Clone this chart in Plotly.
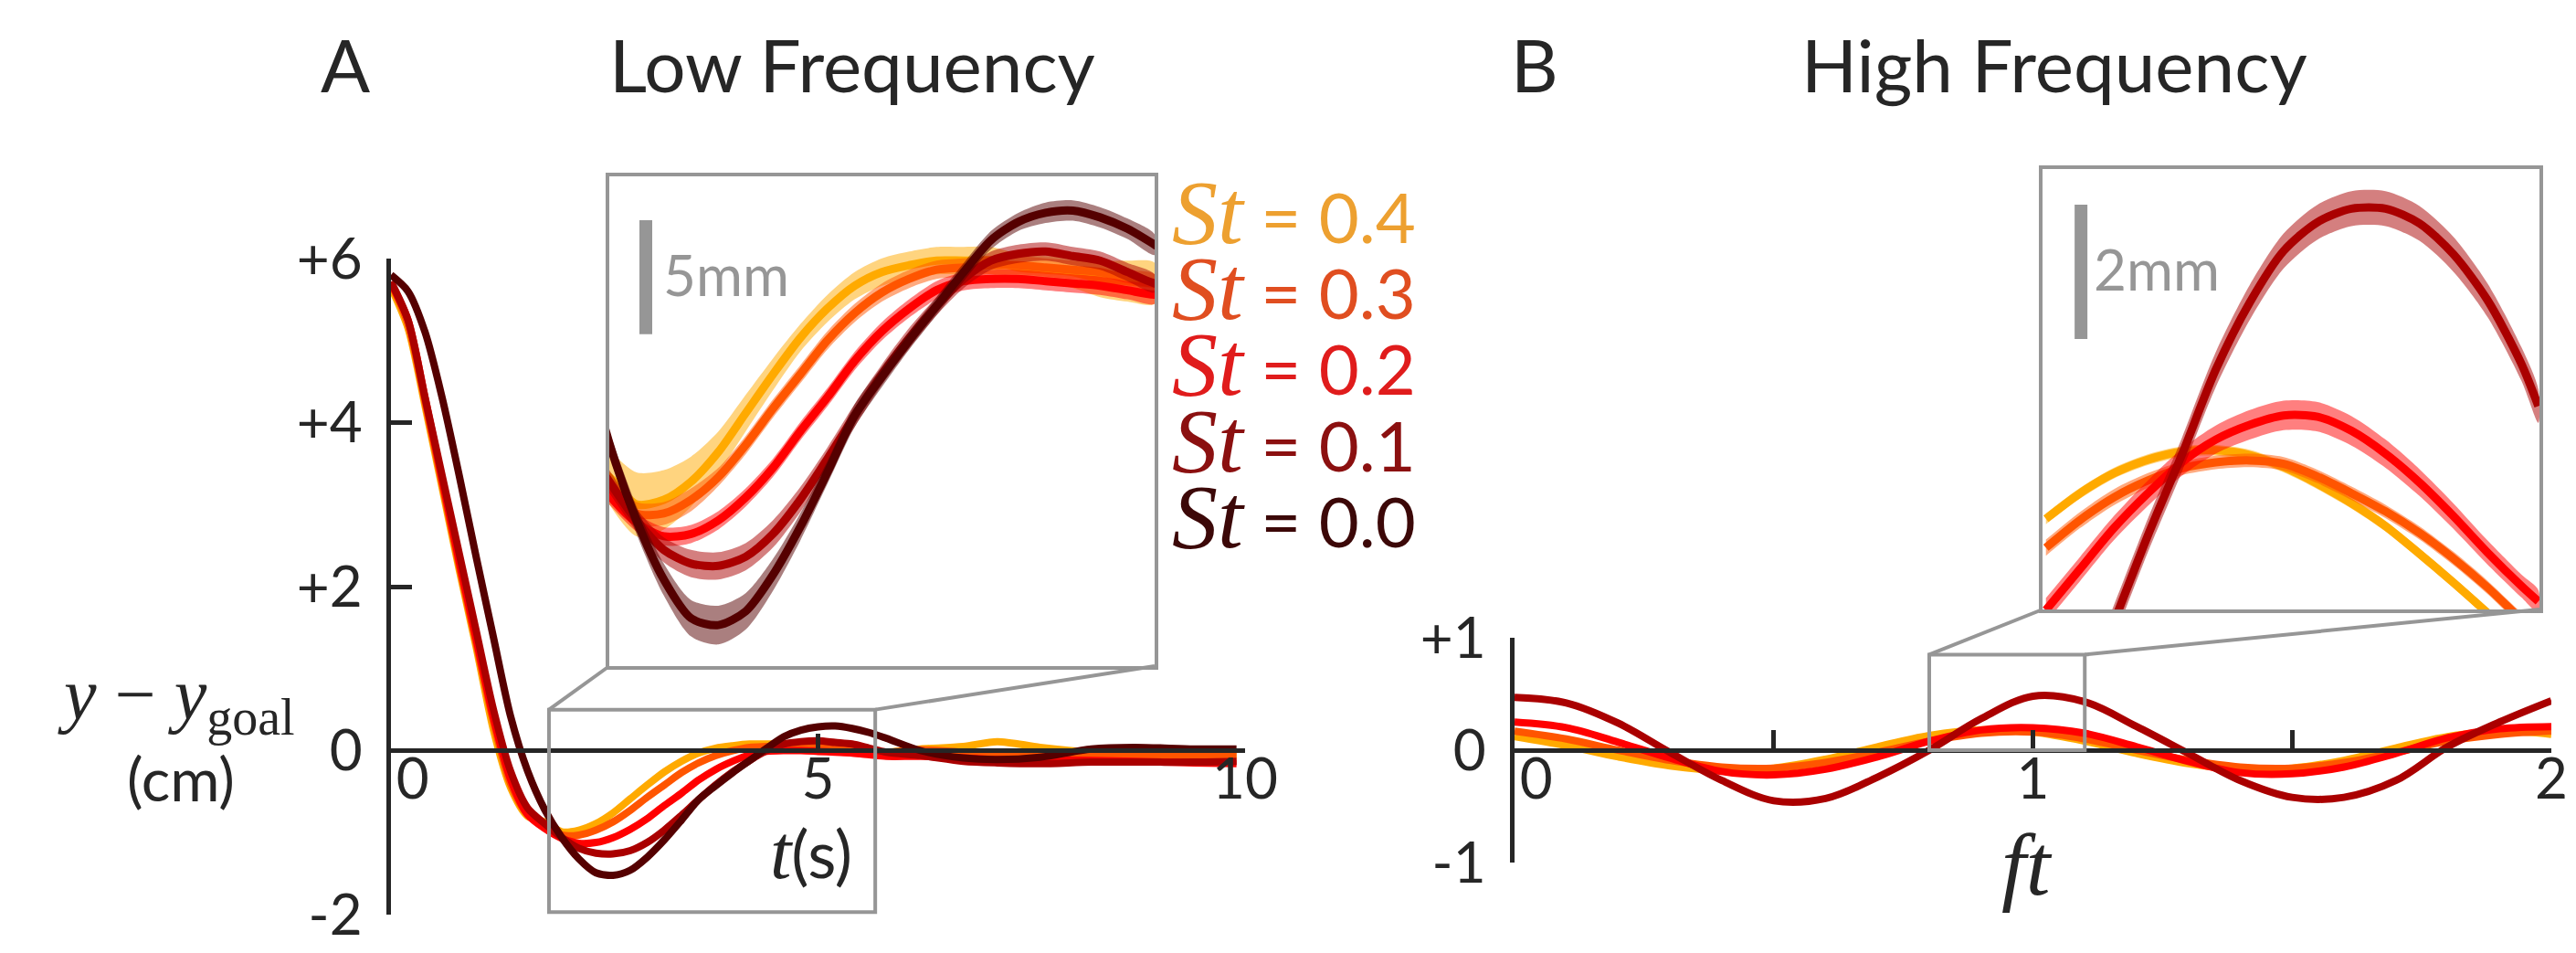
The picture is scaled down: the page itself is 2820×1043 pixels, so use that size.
import plotly.graph_objects as go

# ---- Panel A: low frequency, time (s) vs y - y_goal (cm) ----
t_lf = [0, 0.2, 0.4, 0.6, 0.8, 1.0, 1.2, 1.4, 1.6,
        1.8, 2.0, 2.2, 2.4, 2.6, 2.8, 3.0, 3.2, 3.4, 3.6, 3.8, 4.0,
        4.2, 4.4, 4.6, 4.8, 5.0, 5.2, 5.4, 5.6, 5.8,
        6.2, 6.7, 7.1, 7.6, 8.2, 8.7, 9.4, 9.9]

lf_st04 = [5.65, 5.15, 4.20, 3.20, 2.20, 1.25, 0.25, -0.45, -0.80,
           -0.87, -0.99, -0.97, -0.89, -0.76, -0.59, -0.42, -0.26, -0.13, -0.03, 0.03, 0.06,
           0.08, 0.08, 0.08, 0.05, 0.04, 0.03, 0.00, -0.01, -0.02,
           0.02, 0.05, 0.11, 0.04, -0.02, -0.04, -0.05, -0.05]
lf_st03 = [5.70, 5.20, 4.25, 3.25, 2.25, 1.30, 0.35, -0.40, -0.78,
           -0.91, -1.03, -1.03, -0.97, -0.87, -0.73, -0.57, -0.42, -0.27, -0.15, -0.06, 0.00,
           0.04, 0.05, 0.06, 0.06, 0.05, 0.04, 0.03, 0.00, -0.02,
           0.01, -0.02, -0.04, -0.05, -0.05, -0.07, -0.07, -0.07]
lf_st02 = [5.70, 5.25, 4.30, 3.30, 2.30, 1.35, 0.40, -0.35, -0.78,
           -0.95, -1.07, -1.13, -1.12, -1.06, -0.96, -0.83, -0.67, -0.52, -0.36, -0.23, -0.13,
           -0.05, -0.01, 0.00, 0.00, -0.01, -0.02, -0.03, -0.05, -0.07,
           -0.07, -0.09, -0.11, -0.11, -0.12, -0.13, -0.15, -0.16]
lf_st01 = [5.72, 5.25, 4.30, 3.35, 2.40, 1.45, 0.50, -0.25, -0.70,
           -0.89, -1.06, -1.19, -1.25, -1.26, -1.22, -1.12, -0.97, -0.79, -0.60, -0.42, -0.26,
           -0.12, 0.00, 0.08, 0.11, 0.12, 0.10, 0.08, 0.03, -0.02,
           -0.06, -0.13, -0.15, -0.16, -0.14, -0.14, -0.14, -0.13]
lf_st00 = [5.80, 5.60, 5.10, 4.30, 3.35, 2.35, 1.38, 0.42, -0.25,
           -0.72, -1.06, -1.32, -1.49, -1.52, -1.46, -1.30, -1.09, -0.85, -0.60, -0.43, -0.27,
           -0.12, 0.03, 0.17, 0.25, 0.29, 0.30, 0.27, 0.22, 0.15,
           0.00, -0.09, -0.11, -0.08, 0.02, 0.04, 0.02, 0.02]

# error band half widths (cm) for the zoomed part, t = 1.8 ... 5.8
lf_band04 = [0.12, 0.14, 0.13, 0.11, 0.09, 0.08, 0.07, 0.06, 0.06, 0.06, 0.06,
             0.06, 0.06, 0.06, 0.06, 0.06, 0.06, 0.07, 0.08, 0.09, 0.09]
lf_band03 = [0.05, 0.05, 0.05, 0.05, 0.04, 0.04, 0.04, 0.04, 0.04, 0.04, 0.04,
             0.04, 0.04, 0.04, 0.04, 0.04, 0.04, 0.04, 0.04, 0.04, 0.04]
lf_band02 = [0.04, 0.04, 0.04, 0.04, 0.04, 0.04, 0.04, 0.04, 0.04, 0.04, 0.04,
             0.04, 0.04, 0.04, 0.04, 0.04, 0.04, 0.04, 0.04, 0.04, 0.04]
lf_band01 = [0.05, 0.05, 0.055, 0.06, 0.06, 0.06, 0.06, 0.055, 0.05, 0.05, 0.045,
             0.045, 0.04, 0.04, 0.04, 0.04, 0.04, 0.04, 0.04, 0.04, 0.04]
lf_band00 = [0.05, 0.06, 0.07, 0.08, 0.085, 0.08, 0.07, 0.06, 0.05, 0.05, 0.045,
             0.04, 0.04, 0.04, 0.04, 0.04, 0.045, 0.045, 0.045, 0.045, 0.045]

# ---- Panel B: high frequency, ft vs y - y_goal (cm) ----
ft_hf = [0.0, 0.1, 0.2, 0.3, 0.4, 0.5, 0.6, 0.7, 0.8, 0.9, 1.0,
         1.1, 1.2, 1.3, 1.4, 1.5, 1.6, 1.7, 1.8, 1.9, 2.0]
hf_st04 = [0.12, 0.04, -0.06, -0.14, -0.18, -0.16, -0.08, 0.03, 0.13, 0.18, 0.16,
           0.08, -0.03, -0.12, -0.17, -0.16, -0.09, 0.02, 0.12, 0.17, 0.14]
hf_st03 = [0.17, 0.10, 0.00, -0.09, -0.15, -0.16, -0.11, -0.02, 0.08, 0.15, 0.16,
           0.10, 0.00, -0.09, -0.15, -0.16, -0.11, -0.02, 0.08, 0.14, 0.17]
hf_st02 = [0.25, 0.20, 0.07, -0.07, -0.19, -0.22, -0.17, -0.06, 0.08, 0.18, 0.20,
           0.15, 0.03, -0.10, -0.20, -0.21, -0.15, -0.03, 0.11, 0.19, 0.21]
hf_st01 = [0.47, 0.42, 0.24, -0.02, -0.27, -0.45, -0.43, -0.24, 0.00, 0.28, 0.48,
           0.43, 0.21, -0.03, -0.27, -0.42, -0.42, -0.27, 0.03, 0.25, 0.44]

# zoomed detail of panel B (inset)
ft_zoom = [0.75, 0.78, 0.81, 0.84, 0.87, 0.90, 0.93, 0.96, 0.99, 1.02, 1.05,
           1.08, 1.11, 1.14, 1.17, 1.185]
hfz_st04 = [0.025, 0.063, 0.093, 0.113, 0.125, 0.127, 0.120, 0.102, 0.077, 0.048, 0.014,
            -0.027, -0.070, -0.115, -0.161, -0.185]
hfz_st03 = [-0.018, 0.023, 0.057, 0.082, 0.100, 0.109, 0.112, 0.107, 0.088, 0.063, 0.036,
            0.004, -0.034, -0.077, -0.125, -0.147]
hfz_st02 = [-0.111, -0.050, 0.011, 0.063, 0.109, 0.143, 0.165, 0.179, 0.177, 0.156, 0.122,
            0.079, 0.029, -0.025, -0.075, -0.098]
hfz_st01 = [-0.376, -0.252, -0.129, 0.000, 0.120, 0.247, 0.347, 0.424, 0.467, 0.487, 0.487,
            0.465, 0.419, 0.351, 0.256, 0.193]
hfz_band04 = [0.008, 0.008, 0.008, 0.008, 0.008, 0.008, 0.008, 0.008, 0.008, 0.008, 0.008,
              0.008, 0.008, 0.008, 0.008, 0.008]
hfz_band03 = [0.012, 0.012, 0.012, 0.011, 0.010, 0.010, 0.010, 0.010, 0.010, 0.010, 0.010,
              0.010, 0.010, 0.010, 0.010, 0.010]
hfz_band02 = [0.018, 0.018, 0.018, 0.019, 0.020, 0.021, 0.022, 0.022, 0.022, 0.022, 0.021,
              0.020, 0.019, 0.018, 0.017, 0.017]
hfz_band01 = [0.025, 0.025, 0.025, 0.025, 0.025, 0.026, 0.026, 0.026, 0.026, 0.026, 0.026,
              0.026, 0.026, 0.025, 0.025, 0.025]

st_labels = ['0.4', '0.3', '0.2', '0.1', '0.0']
line_colors = ['#FFAA00', '#FF5500', '#FF0000', '#AA0000', '#550000']
band_colors = ['rgba(255,170,0,0.5)', 'rgba(255,85,0,0.5)', 'rgba(255,0,0,0.5)',
               'rgba(170,0,0,0.5)', 'rgba(85,0,0,0.5)']
text_colors = ['#EDA030', '#E04E20', '#E01C1C', '#8B1010', '#3C0808']

W, H = 2820, 1043
INK = '#262626'
GREY = '#969696'
SANS = 'Lato'
SERIF = 'Liberation Serif'
LW = 8
LW_INSET = 9


def fx(px):
    return px / W


def fy(px):
    return 1 - px / H


def to_paper(v, rng, dom):
    return dom[0] + (v - rng[0]) / (rng[1] - rng[0]) * (dom[1] - dom[0])


# axis geometry (pixels of the 2820x1043 canvas)
xa_dom, xa_rng = [fx(420), fx(1355)], [0, 10]
ya_dom, ya_rng = [fy(993), fy(275)], [-2, 6]
xb_dom, xb_rng = [fx(1650), fx(2785)], [0, 2]
yb_dom, yb_rng = [fy(936), fy(690)], [-1, 1]
xai_dom, xai_rng = [fx(659), fx(1256)], [1.8, 5.8]
yai_dom, yai_rng = [fy(721), fy(185)], [-1.7, 0.45]
xbi_dom, xbi_rng = [fx(2228), fx(2772)], [0.747, 1.186]
ybi_dom, ybi_rng = [fy(659), fy(177)], [-0.11, 0.546]

fig = go.Figure()

lf_series = [lf_st04, lf_st03, lf_st02, lf_st01, lf_st00]
lf_bands = [lf_band04, lf_band03, lf_band02, lf_band01, lf_band00]
t_zoom = t_lf[9:30]

# panel A main curves
for ys, col in zip(lf_series, line_colors):
    fig.add_trace(go.Scatter(x=t_lf, y=ys, mode='lines', xaxis='x', yaxis='y',
                             line=dict(color=col, width=LW, shape='spline', smoothing=0.8)))

# panel A inset: bands + curves
for ys, bw, col, bcol in zip(lf_series, lf_bands, line_colors, band_colors):
    yz = ys[9:30]
    up = [a + b for a, b in zip(yz, bw)]
    lo = [a - b for a, b in zip(yz, bw)]
    fig.add_trace(go.Scatter(x=t_zoom + t_zoom[::-1], y=up + lo[::-1], mode='lines',
                             xaxis='x3', yaxis='y3', fill='toself', fillcolor=bcol,
                             line=dict(width=0, shape='spline', smoothing=0.8)))
    fig.add_trace(go.Scatter(x=t_lf, y=ys, mode='lines', xaxis='x3', yaxis='y3',
                             line=dict(color=col, width=LW_INSET, shape='spline', smoothing=0.8)))

# panel B main curves
hf_series = [hf_st04, hf_st03, hf_st02, hf_st01]
for ys, col in zip(hf_series, line_colors):
    fig.add_trace(go.Scatter(x=ft_hf, y=ys, mode='lines', xaxis='x2', yaxis='y2',
                             line=dict(color=col, width=LW, shape='spline', smoothing=1.0)))

# panel B inset
hfz_series = [hfz_st04, hfz_st03, hfz_st02, hfz_st01]
hfz_bands = [hfz_band04, hfz_band03, hfz_band02, hfz_band01]
for ys, bw, col, bcol in zip(hfz_series, hfz_bands, line_colors, band_colors):
    up = [a + b for a, b in zip(ys, bw)]
    lo = [a - b for a, b in zip(ys, bw)]
    fig.add_trace(go.Scatter(x=ft_zoom + ft_zoom[::-1], y=up + lo[::-1], mode='lines',
                             xaxis='x4', yaxis='y4', fill='toself', fillcolor=bcol,
                             line=dict(width=0, shape='spline', smoothing=0.8)))
    fig.add_trace(go.Scatter(x=ft_zoom, y=ys, mode='lines', xaxis='x4', yaxis='y4',
                             line=dict(color=col, width=LW_INSET, shape='spline', smoothing=0.8)))

tickfont = dict(family=SANS, size=62, color=INK)
main_axis = dict(showgrid=False, zeroline=False, showline=True, linecolor=INK, linewidth=5,
                 ticks='inside', tickcolor=INK, tickwidth=5, tickfont=tickfont,
                 automargin=False)
inset_axis = dict(showgrid=False, zeroline=False, showline=True, mirror=True,
                  linecolor=GREY, linewidth=4, ticks='', showticklabels=False,
                  automargin=False)

fig.update_layout(
    width=W, height=H, margin=dict(l=0, r=0, t=0, b=0, pad=0, autoexpand=False),
    paper_bgcolor='white', plot_bgcolor='rgba(0,0,0,0)', showlegend=False,
    xaxis=dict(main_axis, domain=xa_dom, range=xa_rng, anchor='free', position=fy(813),
               tickvals=[0, 5, 10], ticktext=['\u00a0\u00a0\u00a00', '5', '10'],
               ticklen=16, ticklabelstandoff=-24),
    yaxis=dict(main_axis, domain=ya_dom, range=ya_rng, anchor='x',
               tickvals=[-2, 0, 2, 4, 6], ticktext=['-2', '0', '+2', '+4', '+6'],
               ticklen=23, ticklabelstandoff=14),
    xaxis2=dict(main_axis, domain=xb_dom, range=xb_rng, anchor='free', position=fy(813),
                tickvals=[0, 1, 2], ticktext=['\u00a0\u00a0\u00a00', '1', '2'],
                ticklen=20, ticklabelstandoff=-24,
                minor=dict(ticks='inside', dtick=0.5, ticklen=20, tickwidth=5,
                           tickcolor=INK, showgrid=False)),
    yaxis2=dict(main_axis, domain=yb_dom, range=yb_rng, anchor='x2',
                tickvals=[-1, 0, 1], ticktext=['-1', '0', '+1'],
                ticklen=21, ticklabelstandoff=14),
    xaxis3=dict(inset_axis, domain=xai_dom, range=xai_rng, anchor='y3'),
    yaxis3=dict(inset_axis, domain=yai_dom, range=yai_rng, anchor='x3'),
    xaxis4=dict(inset_axis, domain=xbi_dom, range=xbi_rng, anchor='y4'),
    yaxis4=dict(inset_axis, domain=ybi_dom, range=ybi_rng, anchor='x4'),
)

# zoom boxes and connector lines
shapes = []
boxes = [([1.85, 5.67], [-1.97, 0.50], xa_dom, xa_rng, ya_dom, ya_rng, 'x', 'y', xai_dom, yai_dom),
         ([0.80, 1.10], [0.0, 0.85], xb_dom, xb_rng, yb_dom, yb_rng, 'x2', 'y2', xbi_dom, ybi_dom)]
for bx, by, xd, xr, yd, yr, xref, yref, ixd, iyd in boxes:
    shapes.append(dict(type='rect', xref=xref, yref=yref, x0=bx[0], x1=bx[1], y0=by[0], y1=by[1],
                       line=dict(color=GREY, width=4), layer='above'))
    top = to_paper(by[1], yr, yd)
    for corner, idom in ((bx[0], ixd[0]), (bx[1], ixd[1])):
        shapes.append(dict(type='line', xref='paper', yref='paper',
                           x0=to_paper(corner, xr, xd), y0=top, x1=idom, y1=iyd[0],
                           line=dict(color=GREY, width=4)))

# scale bars inside the insets
scale_lf_cm = 0.5
scale_hf_cm = 0.2
shapes.append(dict(type='line', xref='x3', yref='y3', x0=2.068, x1=2.068,
                   y0=0.257 - scale_lf_cm, y1=0.257, line=dict(color=GREY, width=14)))
shapes.append(dict(type='line', xref='x4', yref='y4', x0=0.781, x1=0.781,
                   y0=0.493 - scale_hf_cm, y1=0.493, line=dict(color=GREY, width=14)))
fig.update_layout(shapes=shapes)


def note(text, px, py, size, color=INK, family=SANS, xanchor='center', align='center'):
    fig.add_annotation(text=text, x=fx(px), y=fy(py), xref='paper', yref='paper',
                       xanchor=xanchor, yanchor='middle', showarrow=False, align=align,
                       font=dict(family=family, size=size, color=color))


note('A', 370, 62, 80)
note('Low Frequency', 925, 62, 80)
note('B', 1672, 62, 80)
note('High Frequency', 2241, 62, 80)

note('<i>y</i> \u2212 <i>y</i><sub>goal</sub>', 185, 758, 80, family=SERIF)
note('(cm)', 190, 843, 66)
note('<span style="font-family:Liberation Serif;font-style:italic;font-size:84px">t</span>(s)',
     880, 924, 72)
note('<i>ft</i>', 2211, 938, 96, family=SERIF)

note('5mm', 716, 292, 62, color=GREY, xanchor='left')
note('2mm', 2282, 286, 62, color=GREY, xanchor='left')

# legend: one block, one coloured line per St value
legend_lines = []
for lab, col in zip(st_labels, text_colors):
    legend_lines.append(
        '<span style="font-family:Liberation Serif;font-style:italic;font-size:100px;color:%s">St</span>'
        '<span style="font-size:76px;color:%s"> = %s</span>' % (col, col, lab))
note('<br>'.join(legend_lines), 1273, 391, 64, xanchor='left', align='left')

fig.write_html('out.html')
